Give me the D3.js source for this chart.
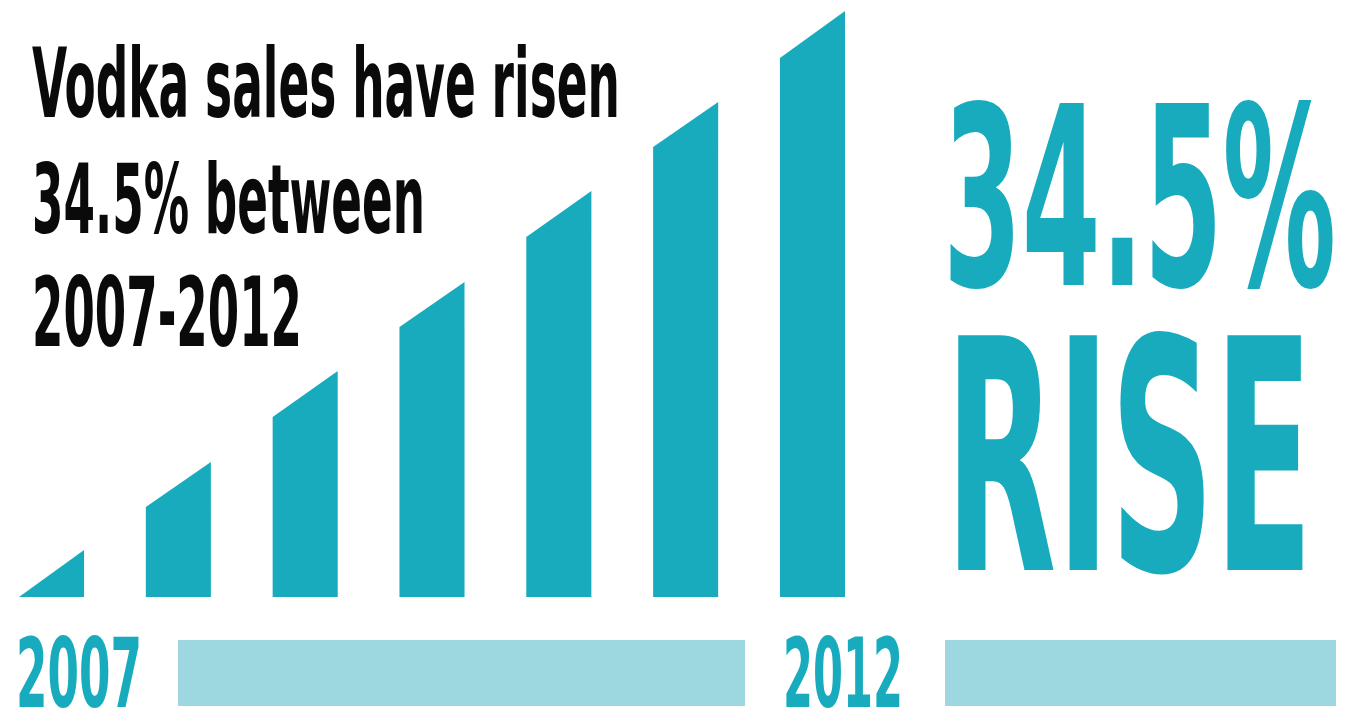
<!DOCTYPE html>
<html>
<head>
    <meta charset="utf-8">
    <title>Vodka sales</title>
    <script src="https://d3js.org/d3.v7.min.js"></script>
    <style>
        body { margin: 0; padding: 0; background: #fff; }
        text { font-family: "Liberation Sans Narrow", "DejaVu Sans Condensed", "Liberation Sans", sans-serif; font-weight: bold; }
    </style>
</head>
<body>
    <svg id="svg" width="1351" height="716"></svg>

    <script>
        // Years shown, one bar per step
        const steps = ["s1", "s2", "s3", "s4", "s5", "s6", "s7"];
        // Height of each bar at its left and right edge (index units)
        const startValues = [0, 90, 180, 270, 360, 450, 539];
        const endValues = [47, 135, 226, 315, 406, 495, 586];
        const yearLabels = ["2007", "2012"];
        const titleLines = ["Vodka sales have risen", "34.5% between", "2007-2012"];
        const bigLines = ["34.5%", "RISE"];

        const teal = "#17abbd";
        const light = "#9dd8e1";

        const svg = d3.select("svg");

        // Scales
        const x = d3.scaleBand().domain(steps).range([19, 845]).paddingInner(0.487).paddingOuter(0);
        const y = d3.scaleLinear().domain([0, 586]).range([597, 11]);

        // Slanted bars
        svg.append("g")
            .selectAll("path")
            .data(steps)
            .join("path")
            .attr("fill", teal)
            .attr("d", (d, i) => {
                const x0 = x(d), x1 = x(d) + x.bandwidth();
                return `M${x0},${y(0)}L${x0},${y(startValues[i])}L${x1},${y(endValues[i])}L${x1},${y(0)}Z`;
            });

        // Bottom strip
        svg.append("rect").attr("x", 178).attr("y", 640).attr("width", 567).attr("height", 66).attr("fill", light);
        svg.append("rect").attr("x", 945).attr("y", 640).attr("width", 391).attr("height", 66).attr("fill", light);

        function addText(str, px, py, size, len, color) {
            svg.append("text")
                .attr("x", px)
                .attr("y", py)
                .attr("font-size", size)
                .attr("fill", color)
                .attr("textLength", len)
                .attr("lengthAdjust", "spacingAndGlyphs")
                .text(str);
        }

        // Year labels
        addText(yearLabels[0], 16, 707, 97, 126, teal);
        addText(yearLabels[1], 783, 707, 97, 120, teal);

        // Title
        addText(titleLines[0], 32, 117, 96, 588, "#0a0a0a");
        addText(titleLines[1], 32, 233, 96, 393, "#0a0a0a");
        addText(titleLines[2], 32, 346, 96, 270, "#0a0a0a");

        // Big callout
        addText(bigLines[0], 943, 285, 250, 393, teal);
        addText(bigLines[1], 945, 570, 322, 368, teal);
    </script>
</body>
</html>
